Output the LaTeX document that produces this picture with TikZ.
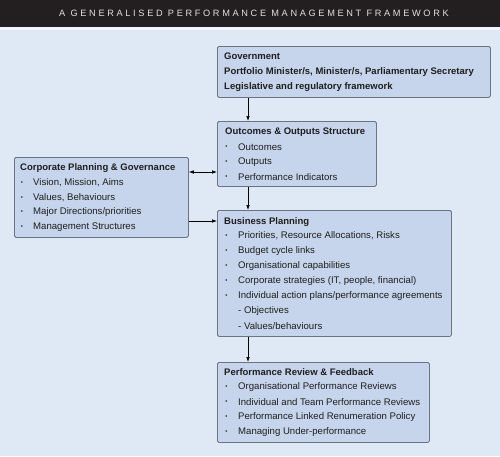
\documentclass[tikz,border=0pt]{standalone}
\usepackage{fontspec}
\setmainfont{Liberation Sans}
\newfontfamily\titlefont[LetterSpace=29]{Liberation Sans}
\usetikzlibrary{arrows.meta}
\definecolor{bgblue}{HTML}{DFE8F5}
\definecolor{boxfill}{HTML}{C6D5EB}
\definecolor{boxline}{HTML}{6B7482}
\definecolor{header}{HTML}{231F20}
\definecolor{txtcol}{HTML}{1E1E1E}
\tikzset{
  box/.style={draw=boxline, fill=boxfill, line width=0.8pt, rounded corners=1.5pt, anchor=north west, inner sep=0pt},
  ttl/.style={anchor=west, inner sep=0pt, font=\fontsize{9.5}{11}\selectfont\bfseries, text=txtcol},
  itm/.style={anchor=west, inner sep=0pt, font=\fontsize{9.6}{11}\selectfont, text=txtcol},
  bul/.style={anchor=center, inner sep=0pt, font=\fontsize{6}{6}\selectfont, text=txtcol},
  arr/.style={-{Latex[length=5pt,width=3.6pt]}, line width=0.7pt, draw=black},
  arrb/.style={{Latex[length=5pt,width=3.6pt]}-{Latex[length=5pt,width=3.6pt]}, line width=0.7pt, draw=black}
}
\begin{document}
\begin{tikzpicture}[x=1pt,y=-1pt]
\useasboundingbox (0,0) rectangle (500,456);
\fill[bgblue] (0,0) rectangle (500,456);
\fill[white!60!bgblue] (0,27) rectangle (500,29.5);
\fill[header] (0,0) rectangle (500,27);
\node[inner sep=0pt, text=white!88!black, font=\titlefont\fontsize{9.2}{10}\selectfont] (title) at (254,13.5) {A GENERALISED PERFORMANCE MANAGEMENT FRAMEWORK};

% boxes
\node[box, minimum width=273pt, minimum height=51pt] (gov) at (217,46) {};
\node[box, minimum width=159pt, minimum height=65pt] (out) at (217,121) {};
\node[box, minimum width=174pt, minimum height=80pt] (corp) at (14,157) {};
\node[box, minimum width=234pt, minimum height=126pt] (bp) at (217,210) {};
\node[box, minimum width=212pt, minimum height=80pt] (pr) at (217,362) {};

% government
\node[ttl] (gov-t) at (224,56) {Government};
\node[ttl] (gov-1) at (224,72) {Portfolio Minister/s, Minister/s, Parliamentary Secretary};
\node[ttl] (gov-2) at (224,87) {Legislative and regulatory framework};

% outcomes
\node[ttl] (out-t) at (225,132) {Outcomes \& Outputs Structure};
\foreach \y/\t [count=\i] in {147/Outcomes, 162/Outputs, 177/Performance Indicators}{
  \node[bul] (out-b\i) at (226.5,\y) {\textbullet};
  \node[itm] (out-\i) at (238,\y) {\t};
}

% corporate
\node[ttl] (corp-t) at (20,168) {Corporate Planning \& Governance};
\foreach \y/\t [count=\i] in {183/{Vision, Mission, Aims}, 198/{Values, Behaviours}, 212/{Major Directions/priorities}, 227/{Management Structures}}{
  \node[bul] (corp-b\i) at (22,\y) {\textbullet};
  \node[itm] (corp-\i) at (33,\y) {\t};
}

% business planning
\node[ttl] (bp-t) at (224,222) {Business Planning};
\foreach \y/\t [count=\i] in {236/{Priorities, Resource Allocations, Risks}, 251/{Budget cycle links}, 266/{Organisational capabilities}, 281/{Corporate strategies (IT, people, financial)}, 296/{Individual action plans/performance agreements}}{
  \node[bul] (bp-b\i) at (226.5,\y) {\textbullet};
  \node[itm] (bp-\i) at (238,\y) {\t};
}
\node[itm] (bp-s1) at (238,311) {- Objectives};
\node[itm] (bp-s2) at (238,326) {- Values/behaviours};

% performance review
\node[ttl] (pr-t) at (224,372) {Performance Review \& Feedback};
\foreach \y/\t [count=\i] in {387/{Organisational Performance Reviews}, 402/{Individual and Team Performance Reviews}, 417/{Performance Linked Renumeration Policy}, 432/{Managing Under-performance}}{
  \node[bul] (pr-b\i) at (226.5,\y) {\textbullet};
  \node[itm] (pr-\i) at (238,\y) {\t};
}

% connectors
\draw[arr] ([xshift=31pt]gov.south west) -- ([xshift=31pt]out.north west);
\draw[arr] ([xshift=31pt]out.south west) -- ([xshift=31pt]bp.north west);
\draw[arr] ([xshift=31pt]bp.south west) -- ([xshift=31pt]pr.north west);
\draw[arrb] ([yshift=-15pt]corp.north east) coordinate (c1) -- (c1 -| out.west);
\draw[arr] ([yshift=-64pt]corp.north east) coordinate (c2) -- (c2 -| bp.west);
\end{tikzpicture}
\end{document}
